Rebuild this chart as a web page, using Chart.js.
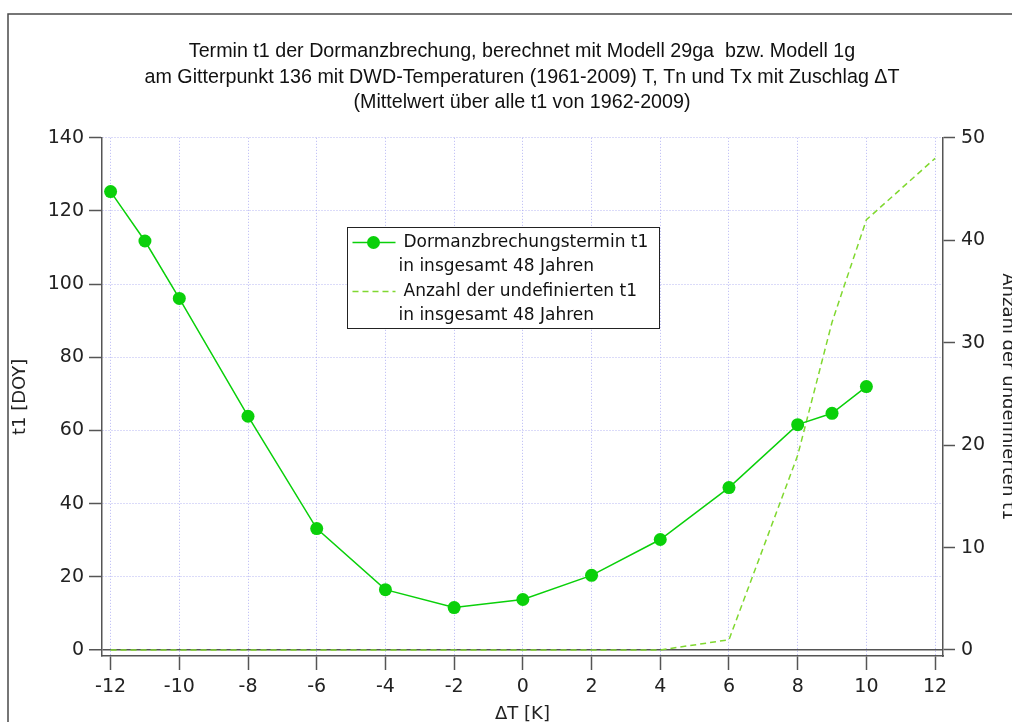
<!DOCTYPE html>
<html>
<head>
<meta charset="utf-8">
<script src="https://cdn.jsdelivr.net/npm/chart.js@4"></script>
<style>
  html, body { margin: 0; padding: 0; background: #fff; overflow: hidden; }
  #wrap { position: relative; width: 1044px; height: 740px; }
</style>
</head>
<body>
<div id="wrap"><canvas id="grafico-dormanz"></canvas></div>
<script>
// Zuschlag ΔT [K] und mittlerer Termin t1 [DOY]
const deltaT = [-12, -11, -10, -8, -6, -4, -2, 0, 2, 4, 6, 8, 9, 10];
const t1Mittel = [125.3, 111.8, 96.1, 63.9, 33.2, 16.5, 11.6, 13.8, 20.4, 30.2, 44.4, 61.6, 64.7, 72.0];

// Anzahl der undefinierten t1 je ΔT
const deltaTUndef = [-12, -11, -10, -8, -6, -4, -2, 0, 2, 4, 6, 8, 9, 10, 12];
const anzahlUndef = [0, 0, 0, 0, 0, 0, 0, 0, 0, 0, 1, 19, 32, 42, 48];

// Achsenbeschriftung
const xTicks = [-12, -10, -8, -6, -4, -2, 0, 2, 4, 6, 8, 10, 12];
const yTicks = [0, 20, 40, 60, 80, 100, 120, 140];
const y2Ticks = [0, 10, 20, 30, 40, 50];

const titelZeilen = [
    'Termin t1 der Dormanzbrechung, berechnet mit Modell 29ga  bzw. Modell 1g',
    'am Gitterpunkt 136 mit DWD-Temperaturen (1961-2009) T, Tn und Tx mit Zuschlag ΔT',
    '(Mittelwert über alle t1 von 1962-2009)'
];
const legendeZeilen = [
    ['Dormanzbrechungstermin t1', 'in insgesamt 48 Jahren'],
    ['Anzahl der undefinierten t1', 'in insgesamt 48 Jahren']
];

const gruen = 'rgb(10, 208, 10)';
const gruenHell = 'rgb(128, 216, 48)';
const achsenFarbe = '#555555';
const gitterFarbe = 'rgba(165, 165, 240, 0.8)';
const schrift = 'DejaVu Sans, Verdana, sans-serif';

function setzeTicks(werte) {
    return function (scale) {
        scale.ticks = werte.map(v => ({ value: v }));
    };
}

// Rahmen um die ganze Grafik
const rahmenPlugin = {
    id: 'rahmen',
    beforeDraw(chart) {
        const ctx = chart.ctx;
        ctx.save();
        ctx.fillStyle = '#ffffff';
        ctx.fillRect(0, 0, chart.width, chart.height);
        ctx.strokeStyle = '#4a4a4a';
        ctx.lineWidth = 1.5;
        ctx.strokeRect(8, 14, chart.width + 50, chart.height + 50);
        ctx.restore();
    }
};

// Legende mit zweizeiligen Einträgen
const legendePlugin = {
    id: 'legendeZweizeilig',
    afterDatasetsDraw(chart) {
        const ctx = chart.ctx;
        const box = { x: 347.5, y: 227.5, w: 312, h: 101 };
        ctx.save();
        ctx.fillStyle = '#ffffff';
        ctx.fillRect(box.x, box.y, box.w, box.h);
        ctx.strokeStyle = '#222222';
        ctx.lineWidth = 1;
        ctx.strokeRect(box.x, box.y, box.w, box.h);

        ctx.font = '17px ' + schrift;
        ctx.fillStyle = '#111111';
        ctx.textBaseline = 'middle';
        ctx.textAlign = 'left';

        chart.data.datasets.forEach((ds, i) => {
            const yZeile = box.y + 15 + i * 49;
            ctx.strokeStyle = ds.borderColor;
            ctx.lineWidth = ds.borderWidth;
            ctx.setLineDash(ds.borderDash || []);
            ctx.beginPath();
            ctx.moveTo(box.x + 5, yZeile);
            ctx.lineTo(box.x + 48, yZeile);
            ctx.stroke();
            ctx.setLineDash([]);
            if (ds.pointRadius > 0) {
                ctx.fillStyle = ds.pointBackgroundColor;
                ctx.beginPath();
                ctx.arc(box.x + 26, yZeile, ds.pointRadius, 0, Math.PI * 2);
                ctx.fill();
            }
            ctx.fillStyle = '#111111';
            ctx.fillText(legendeZeilen[i][0], box.x + 56, yZeile);
            ctx.fillText(legendeZeilen[i][1], box.x + 51, yZeile + 24.5);
        });
        ctx.restore();
    }
};

const ctx = document.getElementById('grafico-dormanz').getContext('2d');

new Chart(ctx, {
    type: 'line',
    data: {
        datasets: [
            {
                label: 'Dormanzbrechungstermin t1',
                data: deltaT.map((x, i) => ({ x: x, y: t1Mittel[i] })),
                yAxisID: 'y',
                borderColor: gruen,
                backgroundColor: gruen,
                pointBackgroundColor: gruen,
                pointBorderColor: gruen,
                borderWidth: 1.5,
                pointRadius: 6.5,
                pointBorderWidth: 0,
                tension: 0,
                order: 1
            },
            {
                label: 'Anzahl der undefinierten t1',
                data: deltaTUndef.map((x, i) => ({ x: x, y: anzahlUndef[i] })),
                yAxisID: 'y2',
                borderColor: gruenHell,
                backgroundColor: gruenHell,
                borderWidth: 1.5,
                borderDash: [6, 4],
                pointRadius: 0,
                tension: 0,
                order: 2
            }
        ]
    },
    options: {
        responsive: true,
        maintainAspectRatio: false,
        animation: false,
        layout: { padding: 0 },
        plugins: {
            legend: { display: false },
            tooltip: { enabled: false },
            title: {
                display: true,
                text: titelZeilen,
                color: '#111111',
                font: { family: 'Liberation Sans, Arial, sans-serif', size: 19.7, weight: 'normal', lineHeight: 1.3 },
                padding: { top: 39, bottom: 22 }
            }
        },
        scales: {
            x: {
                type: 'linear',
                position: 'bottom',
                min: -12.25,
                max: 12.23,
                afterBuildTicks: setzeTicks(xTicks),
                afterFit: s => { s.height = 84; },
                grid: {
                    color: gitterFarbe,
                    lineWidth: 1,
                    tickColor: achsenFarbe,
                    tickLength: 14,
                    tickWidth: 1.5
                },
                border: { display: true, color: achsenFarbe, width: 1.5, dash: [1, 2] },
                ticks: {
                    color: '#222222',
                    font: { family: schrift, size: 19 },
                    padding: 6,
                    maxRotation: 0,
                    autoSkip: false
                },
                title: {
                    display: true,
                    text: 'ΔT [K]',
                    color: '#222222',
                    font: { family: schrift, size: 18 },
                    padding: { top: 0, bottom: 15 }
                }
            },
            y: {
                type: 'linear',
                position: 'left',
                min: -1.64,
                max: 140,
                afterBuildTicks: setzeTicks(yTicks),
                afterFit: s => { s.width = 102; },
                grid: {
                    color: c => (c.tick && c.tick.value === 0) ? achsenFarbe : gitterFarbe,
                    lineWidth: c => (c.tick && c.tick.value === 0) ? 1.5 : 1,
                    tickColor: achsenFarbe,
                    tickLength: 13,
                    tickWidth: 1.5
                },
                border: {
                    display: true,
                    color: achsenFarbe,
                    width: 1.5,
                    dash: c => (c.tick && c.tick.value === 0) ? [] : [1, 2]
                },
                ticks: {
                    color: '#222222',
                    font: { family: schrift, size: 19 },
                    padding: 5
                },
                title: {
                    display: true,
                    text: 't1 [DOY]',
                    color: '#222222',
                    font: { family: schrift, size: 18 },
                    padding: { top: 10, bottom: 0 }
                }
            },
            y2: {
                type: 'linear',
                position: 'right',
                min: -0.586,
                max: 50,
                afterBuildTicks: setzeTicks(y2Ticks),
                afterFit: s => { s.width = 101; },
                grid: {
                    drawOnChartArea: false,
                    tickColor: achsenFarbe,
                    tickLength: 12,
                    tickWidth: 1.5
                },
                border: { display: true, color: achsenFarbe, width: 1.5 },
                ticks: {
                    color: '#222222',
                    font: { family: schrift, size: 19 },
                    padding: 6
                },
                title: {
                    display: true,
                    text: 'Anzahl der undefinierten t1',
                    color: '#222222',
                    font: { family: schrift, size: 18 },
                    padding: { top: 26, bottom: 0 }
                }
            }
        }
    },
    plugins: [rahmenPlugin, legendePlugin]
});
</script>
</body>
</html>
